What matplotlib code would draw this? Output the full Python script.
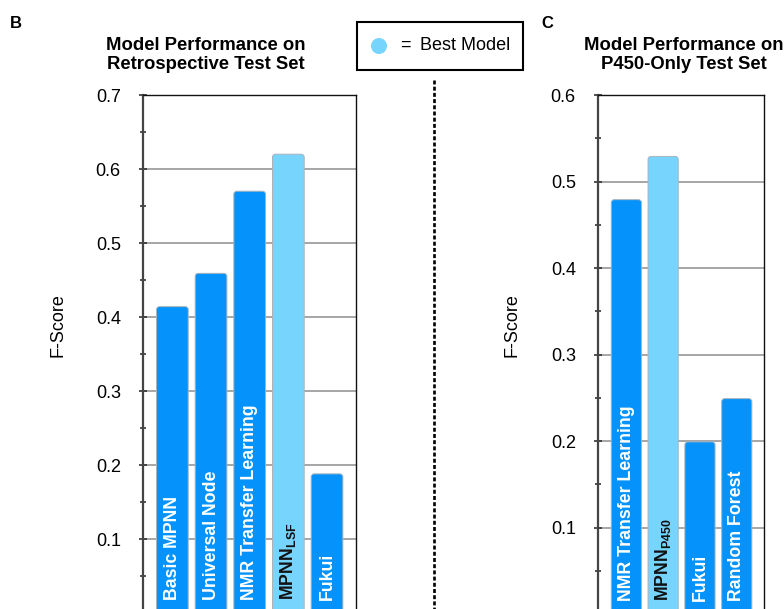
"""Model performance bar charts (panels B and C)."""

import matplotlib
matplotlib.use("Agg")
import matplotlib.pyplot as plt
from matplotlib.patches import Rectangle, Ellipse, FancyBboxPatch
from matplotlib.lines import Line2D
from matplotlib.ticker import MultipleLocator

plt.rcParams["font.family"] = ["Liberation Sans", "DejaVu Sans"]
plt.rcParams["mathtext.fontset"] = "custom"
plt.rcParams["mathtext.rm"] = "Liberation Sans"
plt.rcParams["mathtext.bf"] = "Liberation Sans:bold"

# ── data ─────────────────────────────────────────────
retro_labels = ["Basic MPNN", "Universal Node", "NMR Transfer Learning",
                r"MPNN$_{\mathbf{LSF}}$", "Fukui"]
retro_scores = [0.414, 0.459, 0.570, 0.620, 0.188]
retro_best = [False, False, False, True, False]

p450_labels = ["NMR Transfer Learning", r"MPNN$_{\mathbf{P450}}$", "Fukui", "Random Forest"]
p450_scores = [0.479, 0.529, 0.199, 0.249]
p450_best = [False, True, False, False]

# ── colours ──
C = {
    "bar": "#0593fb",
    "best": "#77d4fd",
    "edge": "#a8b4bc",
    "grid": "#a6a6a6",
    "dark": "#111111",
}

W, H = 784, 609
fig = plt.figure(figsize=(W / 100, H / 100), dpi=100)
fig.patch.set_facecolor("white")


def px(x, y):
    """pixel (from top-left) -> figure fraction"""
    return x / W, 1 - y / H


def panel(left, right, top, zero, ymax, labels, scores, best, xlim):
    ax = fig.add_axes([left / W, 1 - zero / H, (right - left) / W, (zero - top) / H])
    xs = list(range(len(scores)))
    colors = [C["best"] if b else C["bar"] for b in best]
    bars = ax.bar(xs, scores, width=0.82, color=colors, zorder=3)
    # swap plain bars for rounded ones (same geometry)
    xpp = (xlim[1] - xlim[0]) / (right - left)   # x units per pixel
    ypp = ymax / (zero - top)                     # y units per pixel
    for b, col in zip(bars, colors):
        b.set_visible(False)
        ax.add_patch(FancyBboxPatch((b.get_x(), b.get_y()), b.get_width(), b.get_height(),
                                    boxstyle=f"round,pad=0,rounding_size={3 * xpp}",
                                    mutation_aspect=ypp / xpp, facecolor=col,
                                    edgecolor=C["edge"], linewidth=0.7, zorder=3))
    for x, lab, b in zip(xs, labels, best):
        ax.annotate(lab, xy=(x, 0), xytext=(0, 13), textcoords="offset pixels",
                    rotation=90, ha="center", va="bottom", fontsize=12.8,
                    fontweight="bold", color=C["dark"] if b else "white", zorder=4)
    ax.set_xlim(*xlim)
    ax.set_ylim(0, ymax)
    ax.set_xticks([])
    ax.yaxis.set_minor_locator(MultipleLocator(0.05))
    ticks = [t / 10 for t in range(1, int(round(ymax * 10)) + 1)]
    ax.set_yticks(ticks)
    ax.set_yticklabels([f"{t:.1f}" for t in ticks])
    ax.tick_params(axis="y", which="major", direction="inout", length=6, width=1.2,
                   labelsize=13, pad=13, color="#333333")
    ax.tick_params(axis="y", which="minor", direction="inout", length=4, width=1.2,
                   color="#333333")
    ax.grid(axis="y", which="major", color=C["grid"], linewidth=1.4, zorder=0)
    ax.spines["left"].set_color("#444444")
    ax.spines["left"].set_linewidth(1.6)
    for s in ("top", "right"):
        ax.spines[s].set_color("#111111")
        ax.spines[s].set_linewidth(1.0)
    ax.spines["bottom"].set_visible(False)
    return ax


panel(143, 356, 95, 613, 0.7, retro_labels, retro_scores, retro_best, (-0.76, 4.75))
panel(598, 764, 95, 614, 0.6, p450_labels, p450_scores, p450_best, (-0.77, 3.74))

# titles, panel letters, axis labels
fig.text(*px(206, 55), "Model Performance on\nRetrospective Test Set", ha="center",
         va="center", fontsize=13.3, fontweight="bold", linespacing=1.15)
fig.text(*px(684, 55), "Model Performance on\nP450-Only Test Set", ha="center",
         va="center", fontsize=13.3, fontweight="bold", linespacing=1.15)
fig.text(*px(16, 23), "B", ha="center", va="center", fontsize=12, fontweight="bold")
fig.text(*px(547, 23), "C", ha="center", va="center", fontsize=12, fontweight="bold")
fig.text(*px(58, 325), "F-Score", rotation=90, ha="center", va="center", fontsize=13)
fig.text(*px(512, 325), "F-Score", rotation=90, ha="center", va="center", fontsize=13)

# legend box
fig.patches.append(Rectangle(px(357, 70), 166 / W, 48 / H, transform=fig.transFigure,
                             facecolor="white", edgecolor="black", linewidth=1.5))
fig.patches.append(Ellipse(px(379, 46), 16 / W, 16 / H, transform=fig.transFigure,
                           facecolor=C["best"], edgecolor="none"))
fig.text(*px(405, 45), "=", ha="center", va="center", fontsize=13)
fig.text(*px(420, 45), "Best Model", ha="left", va="center", fontsize=13)

# dotted divider
fig.lines.append(Line2D([434 / W, 434 / W], [1 - 80 / H, 0], transform=fig.transFigure,
                        color="black", linewidth=1.9, linestyle=(0, (1.5, 0.85))))

fig.savefig("out.png", dpi=100, facecolor="white")
